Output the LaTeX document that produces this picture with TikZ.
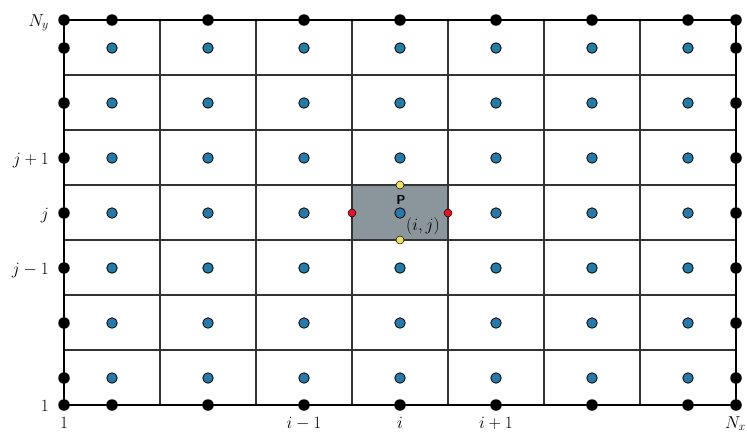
\documentclass[tikz,border=0pt]{standalone}
\definecolor{cellblue}{RGB}{38,122,168}
\definecolor{cellgray}{RGB}{138,150,156}
\definecolor{fluxred}{RGB}{225,20,40}
\definecolor{fluxyel}{RGB}{240,225,100}
\begin{document}
\begin{tikzpicture}[x=1pt,y=-1pt,
  gridline/.style={line width=1.2pt, black!80},
  border/.style={line width=2.6pt, black},
  bdot/.style={circle, fill=black, inner sep=0pt, minimum size=11.5pt},
  cdot/.style={circle, fill=cellblue, draw=black, line width=0.8pt, inner sep=0pt, minimum size=10.5pt},
  rdot/.style={circle, fill=fluxred, draw=black, line width=0.5pt, inner sep=0pt, minimum size=8pt},
  ydot/.style={circle, fill=fluxyel, draw=black, line width=0.5pt, inner sep=0pt, minimum size=8pt},
  lbl/.style={font=\fontsize{17}{20}\selectfont, inner sep=0pt}]
\useasboundingbox (0,0) rectangle (747,432);
% shaded control volume
\fill[cellgray] (352,185) rectangle (448,240);
% grid lines
\foreach \x in {160,256,...,640} \draw[gridline] (\x,20) -- (\x,405);
\foreach \y in {75,130,...,350} \draw[gridline] (64,\y) -- (736,\y);
\draw[border] (64,20) rectangle (736,405);
% cell centres
\foreach \x in {112,208,...,688}
  \foreach \y in {48,103,...,378}
    \node[cdot] (c-\x-\y) at (\x,\y) {};
% boundary nodes
\foreach \x in {64,112,208,304,400,496,592,688,736} {
  \node[bdot] (t-\x) at (\x,20) {};
  \node[bdot] (b-\x) at (\x,405) {};
}
\foreach \y in {48,103,...,378} {
  \node[bdot] (l-\y) at (64,\y) {};
  \node[bdot] (r-\y) at (736,\y) {};
}
% face points
\node[rdot] (w) at (352,213) {};
\node[rdot] (e) at (448,213) {};
\node[ydot] (n) at (400,185) {};
\node[ydot] (s) at (400,240) {};
\node[font=\fontsize{13}{15}\selectfont\sffamily\bfseries, inner sep=0pt] (P) at (401,200) {P};
\node[lbl] (ij) at (423,226) {$(i,j)$};
% left labels
\node[lbl, anchor=base east] (Ny) at (49,26) {$N_y$};
\node[lbl, anchor=base east] (jp) at (49,164) {$j+1$};
\node[lbl, anchor=base east] (jj) at (49,219) {$j$};
\node[lbl, anchor=base east] (jm) at (49,274) {$j-1$};
\node[lbl, anchor=base east] (one-l) at (49,411) {$1$};
% bottom labels
\node[lbl, anchor=base] (one-b) at (64,428) {$1$};
\node[lbl, anchor=base] (im) at (304,428) {$i-1$};
\node[lbl, anchor=base] (ii) at (400,428) {$i$};
\node[lbl, anchor=base] (ip) at (496,428) {$i+1$};
\node[lbl, anchor=base east] (Nx) at (746,428) {$N_x$};
\end{tikzpicture}
\end{document}
